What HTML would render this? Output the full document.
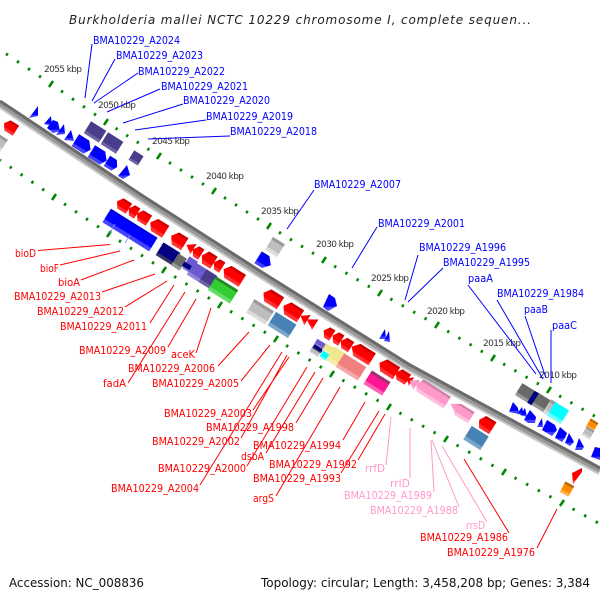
<!DOCTYPE html>
<html><head><meta charset="utf-8"><style>
html,body{margin:0;padding:0;background:#fff}
svg{display:block}
text{font-family:"DejaVu Sans","Liberation Sans",sans-serif;font-size:11px}
.b text{fill:#00f}.r text{fill:#f00}.p text{fill:#ff99cc}
.k text{fill:#333;font-size:9px}
</style></head><body>
<svg width="600" height="600" viewBox="0 0 600 600" xmlns="http://www.w3.org/2000/svg">
<defs>
<linearGradient id="r" x1="0" y1="0" x2="0" y2="1"><stop offset=".18" stop-color="#c00"/><stop offset=".2" stop-color="#f00"/><stop offset=".72" stop-color="#f00"/><stop offset=".78" stop-color="#f33"/></linearGradient>
<linearGradient id="u" x1="0" y1="0" x2="0" y2="1"><stop offset=".1" stop-color="#00d"/><stop offset=".15" stop-color="#00f"/><stop offset=".72" stop-color="#00f"/><stop offset=".78" stop-color="#44f"/></linearGradient>
<linearGradient id="n" x1="0" y1="0" x2="0" y2="1"><stop offset=".75" stop-color="#000080"/><stop offset=".8" stop-color="#336"/></linearGradient>
<linearGradient id="d" x1="0" y1="0" x2="0" y2="1"><stop offset=".75" stop-color="#483d8b"/><stop offset=".8" stop-color="#6d64a5"/></linearGradient>
<linearGradient id="s" x1="0" y1="0" x2="0" y2="1"><stop offset=".72" stop-color="#6a5acd"/><stop offset=".8" stop-color="#9085da"/></linearGradient>
<linearGradient id="g" x1="0" y1="0" x2="0" y2="1"><stop offset=".18" stop-color="#999"/><stop offset=".22" stop-color="#bebebe"/><stop offset=".72" stop-color="#bebebe"/><stop offset=".8" stop-color="#ddd"/></linearGradient>
<linearGradient id="m" x1="0" y1="0" x2="0" y2="1"><stop offset=".72" stop-color="#696969"/><stop offset=".8" stop-color="#999"/></linearGradient>
<linearGradient id="t" x1="0" y1="0" x2="0" y2="1"><stop offset=".72" stop-color="#4682b4"/><stop offset=".8" stop-color="#7da7c9"/></linearGradient>
<linearGradient id="v" x1="0" y1="0" x2="0" y2="1"><stop offset=".15" stop-color="#282"/><stop offset=".2" stop-color="#32cd32"/><stop offset=".72" stop-color="#32cd32"/><stop offset=".8" stop-color="#66dd66"/></linearGradient>
<linearGradient id="c" x1="0" y1="0" x2="0" y2="1"><stop offset=".72" stop-color="#f08080"/><stop offset=".8" stop-color="#f5a8a8"/></linearGradient>
<linearGradient id="h" x1="0" y1="0" x2="0" y2="1"><stop offset=".18" stop-color="#a03070"/><stop offset=".22" stop-color="#ff1493"/><stop offset=".72" stop-color="#ff1493"/><stop offset=".8" stop-color="#ff60b5"/></linearGradient>
<linearGradient id="i" x1="0" y1="0" x2="0" y2="1"><stop offset=".15" stop-color="#d080a8"/><stop offset=".2" stop-color="#ff99cc"/><stop offset=".72" stop-color="#ff99cc"/><stop offset=".8" stop-color="#ffc0dd"/></linearGradient>
<linearGradient id="q" x1="0" y1="0" x2="0" y2="1"><stop offset=".72" stop-color="#f0e68c"/><stop offset=".8" stop-color="#f5eeb0"/></linearGradient>
<linearGradient id="y" x1="0" y1="0" x2="0" y2="1"><stop offset=".72" stop-color="#0ff"/><stop offset=".8" stop-color="#66ffff"/></linearGradient>
<linearGradient id="o" x1="0" y1="0" x2="0" y2="1"><stop offset=".2" stop-color="#b86a10"/><stop offset=".25" stop-color="#ff8c00"/><stop offset=".72" stop-color="#ff8c00"/><stop offset=".8" stop-color="#ffb050"/></linearGradient>
</defs>

<text x="69" y="24" font-style="italic" style="font-size:12px;fill:#222" textLength="462" lengthAdjust="spacing">Burkholderia mallei NCTC 10229 chromosome I, complete sequen...</text>

<!-- backbone -->
<g fill="none">
<path d="M0,104.500 L143,199.500 L260,274.500 L410,368.500 L600,471.500" stroke="#c8c8c8" stroke-width="7.500"/>
<path d="M0,103 L143,198 L260,273 L410,367 L600,470" stroke="#999" stroke-width="6"/>
<path d="M0,101 L143,196 L260,271 L410,365 L600,468" stroke="#6a6a6a" stroke-width="3"/>
</g>

<!-- tracks: dots -->
<g stroke="#080" stroke-width="3" fill="none">
<g stroke-dasharray=".18 .82" stroke-dashoffset=".09">
<line pathLength="5" x1="-4" y1="47" x2="51" y2="84"/>
<line pathLength="5" x1="51" y1="84" x2="106" y2="122"/>
<line pathLength="5" x1="106" y1="122" x2="159" y2="156"/>
<line pathLength="5" x1="159" y1="156" x2="214" y2="191"/>
<line pathLength="5" x1="214" y1="191" x2="269" y2="226"/>
<line pathLength="5" x1="269" y1="226" x2="324" y2="260"/>
<line pathLength="5" x1="324" y1="260" x2="380" y2="293"/>
<line pathLength="5" x1="380" y1="293" x2="437" y2="325"/>
<line pathLength="5" x1="437" y1="325" x2="493" y2="358"/>
<line pathLength="5" x1="493" y1="358" x2="549" y2="390"/>
<line pathLength="5" x1="549" y1="390" x2="605" y2="422"/>
<line pathLength="5" x1="0" y1="160" x2="54" y2="197"/>
<line pathLength="5" x1="54" y1="197" x2="109" y2="234"/>
<line pathLength="5" x1="109" y1="234" x2="164" y2="270"/>
<line pathLength="5" x1="164" y1="270" x2="220" y2="305"/>
<line pathLength="5" x1="220" y1="305" x2="276" y2="339"/>
<line pathLength="5" x1="276" y1="339" x2="332" y2="374"/>
<line pathLength="5" x1="332" y1="374" x2="389" y2="407"/>
<line pathLength="5" x1="389" y1="407" x2="446" y2="439"/>
<line pathLength="5" x1="446" y1="439" x2="504" y2="472"/>
<line pathLength="5" x1="504" y1="472" x2="562" y2="503"/>
<line pathLength="5" x1="562" y1="503" x2="620" y2="535"/>
</g>
<g stroke-width="2.500">
<path d="M49,87l4,-6M104,125l4,-6M157,159l4,-6M212,194l4,-6M267,229l4,-6M322,263l4,-6M378,296l4,-6M435,328l4,-6M491,361l4,-6M547,393l4,-6"/>
<path d="M52,200l4,-6M107,237l4,-6M162,273l4,-6M218,308l4,-6M274,342l4,-6M330,377l4,-6M387,410l4,-6M444,442l4,-6M502,475l4,-6M560,506l4,-6"/>
</g>
</g>

<!-- blue features top left -->
<g fill="url(#u)">
<polygon points="29,118 38,106 38,116"/>
<polygon points="44,124 51,116 52,126"/>
<polygon points="47,128 53,120 58,122 60,131 53,133"/>
<polygon points="56,135 64,124 65,134"/>
<polygon points="64,140 71,130 74,141"/>
<path transform="translate(83 145)rotate(32)" d="M-9,-7H3L9,0L5,7H-9Z"/>
<path transform="translate(99 156)rotate(32)" d="M-9,-7H3L9,0L5,7H-9Z"/>
<path transform="translate(112 164)rotate(32)" d="M-6,-6H2L6,0L3,6H-6Z"/>
<polygon points="118,176 127,165 130,175 123,179"/>
<path transform="translate(264 261)rotate(32)" d="M-7,-7H2L8,0L2,7H-7Z"/>
<polygon points="323,307 329,294 335,298 337,306 328,311"/>
<polygon points="379,339 385,329 386,339"/>
<polygon points="384,341 389,331 390,342"/>
<!-- blue right group -->
<polygon points="513,402 518,408 519,414 509,412"/>
<polygon points="522,407 524,415 517,414"/>
<polygon points="525,408 527,417 520,415"/>
<polygon points="530,410 536,417 535,423 528,423 524,420"/>
<polygon points="542,418 543,427 537,427"/>
<polygon points="547,420 555,425 557,430 552,436 542,430"/>
<polygon points="560,427 567,433 565,438 562,442 555,438"/>
<polygon points="569,433 574,442 570,446 565,443"/>
<polygon points="579,438 584,447 582,450 575,450"/>
<polygon points="595,447 600,448 600,460 591,457"/>
</g>
<rect fill="url(#d)" x="-9" y="-7" width="18" height="14" transform="translate(95 132)rotate(32)"/>
<rect fill="url(#d)" x="-9" y="-7" width="18" height="14" transform="translate(112 143)rotate(32)"/>
<rect fill="url(#d)" x="-5.500" y="-5.500" width="11" height="11" transform="translate(136 158)rotate(32)"/>

<!-- far left -->
<path fill="url(#r)" transform="translate(10 127)rotate(32)" d="M-7,0L-3,-6H7V6H-3Z"/>
<rect fill="url(#g)" x="-9" y="-7" width="14" height="14" transform="translate(0 143)rotate(32)"/>

<!-- blue boxes -->
<rect fill="url(#u)" x="-27.500" y="-8" width="55" height="16" transform="translate(130 230)rotate(32)"/>
<g stroke="#88f" stroke-width=".8"><path d="M110,233l5,-9M125,243l5,-8"/></g>
<rect fill="url(#n)" x="-10" y="-7.500" width="20" height="15" transform="translate(168 254)rotate(32)"/>
<rect fill="url(#m)" x="-5" y="-7" width="10" height="14" transform="translate(179 262)rotate(32)"/>
<rect fill="url(#s)" x="-5" y="-7" width="10" height="14" transform="translate(190 265)rotate(32)"/>
<rect fill="#000080" x="-4.500" y="-2.500" width="9" height="5" transform="translate(187 266)rotate(32)"/>
<rect fill="url(#s)" x="-11" y="-7.500" width="22" height="15" transform="translate(200 274)rotate(32)"/>
<rect fill="url(#d)" x="-6.500" y="-7.500" width="13" height="15" transform="translate(208 279)rotate(32)"/>
<rect fill="url(#v)" x="-13" y="-8" width="26" height="16" transform="translate(223 290)rotate(32)"/>

<!-- red row 1 -->
<g fill="url(#r)">
<path transform="translate(123 205)rotate(32)" d="M-7,0L-3,-6H7V6H-3Z"/>
<path transform="translate(133 211)rotate(32)" d="M-5,0L-1,-6H5V6H-1Z"/>
<path transform="translate(143 217)rotate(32)" d="M-7,0L-3,-6H7V6H-3Z"/>
<path transform="translate(158 227)rotate(32)" d="M-9,0L-4,-7H9V7H-4Z"/>
<path transform="translate(178 240)rotate(32)" d="M-8,0L-3,-7H8V7H-3Z"/>
<path transform="translate(190 247)rotate(32)" d="M-4,0L4,-6V6Z"/>
<path transform="translate(197 252)rotate(32)" d="M-5,0L-1,-6H5V6H-1Z"/>
<path transform="translate(208 259)rotate(32)" d="M-7,0L-3,-7H7V7H-3Z"/>
<path transform="translate(218 265)rotate(32)" d="M-5,0L-1,-6H5V6H-1Z"/>
<path transform="translate(233 275)rotate(32)" d="M-11,0L-6,-7H11V7H-6Z"/>
<path transform="translate(272 298)rotate(32)" d="M-10,0L-5,-7H10V7H-5Z"/>
<path transform="translate(292 311)rotate(32)" d="M-10,0L-5,-7H10V7H-5Z"/>
<path transform="translate(304 318)rotate(32)" d="M-4,0L4,-6V6Z"/>
<path transform="translate(311 322)rotate(32)" d="M-5,0L5,-6V6Z"/>
<path transform="translate(328 333)rotate(32)" d="M-5,0L-1,-6H5V6H-1Z"/>
<path transform="translate(337 338)rotate(32)" d="M-5,0L-1,-6H5V6H-1Z"/>
<path transform="translate(346 344)rotate(32)" d="M-6,0L-2,-6H6V6H-2Z"/>
<path transform="translate(362 353)rotate(32)" d="M-12,0L-6,-7H12V7H-6Z"/>
<path transform="translate(388 368)rotate(32)" d="M-10,0L-5,-7H10V7H-5Z"/>
<path transform="translate(402 376)rotate(32)" d="M-7,0L-3,-6H7V6H-3Z"/>
<path transform="translate(409 380)rotate(32)" d="M-3,0L3,-5V5Z"/>
<path transform="translate(486 424)rotate(32)" d="M-8,0L-4,-7H8V7H-4Z"/>
<polygon points="573,484 572,473 582,468 582,472" />
</g>

<!-- row 2 -->
<rect fill="url(#g)" x="-11.500" y="-8" width="23" height="16" transform="translate(260 312)rotate(32)"/>
<rect fill="url(#t)" x="-12" y="-8" width="24" height="16" transform="translate(282 325)rotate(32)"/>
<rect fill="url(#g)" x="-7" y="-7.500" width="14" height="15" transform="translate(275 247)rotate(32)"/>
<rect fill="url(#g)" x="-5" y="-3" width="10" height="6" transform="translate(315 352)rotate(32)"/>
<rect fill="url(#n)" x="-5" y="-3" width="10" height="6" transform="translate(318 348)rotate(32)"/>
<rect fill="url(#s)" x="-5" y="-3" width="10" height="6" transform="translate(320 344)rotate(32)"/>
<rect fill="url(#q)" x="-4.500" y="-4" width="9" height="8" transform="translate(328 349)rotate(32)"/>
<rect fill="url(#y)" x="-4.500" y="-3.500" width="9" height="7" transform="translate(325 356)rotate(32)"/>
<rect fill="url(#q)" x="-7" y="-8" width="14" height="16" transform="translate(336 357)rotate(32)"/>
<rect fill="url(#c)" x="-13" y="-8" width="26" height="16" transform="translate(351 367)rotate(32)"/>
<rect fill="url(#h)" x="-11" y="-8" width="22" height="16" transform="translate(377 383)rotate(32)"/>
<g fill="url(#i)">
<path transform="translate(413 383)rotate(32)" d="M-4,0L4,-6V6Z"/>
<path transform="translate(432 393)rotate(32)" d="M-18,0L-14,-7H18V7H-14Z"/>
<path transform="translate(454 406)rotate(32)" d="M-4,0L4,-5V5Z"/>
<path transform="translate(463 412)rotate(32)" d="M-10,0L-6,-6H10V7H-6Z"/>
</g>
<rect fill="url(#t)" x="-10" y="-8" width="20" height="16" transform="translate(476 438)rotate(32)"/>

<!-- right group -->
<rect fill="url(#m)" x="-7.500" y="-7" width="15" height="14" transform="translate(525 393)rotate(32)"/>
<rect fill="url(#m)" x="-8" y="-7" width="16" height="14" transform="translate(540 402)rotate(32)"/>
<rect fill="#000080" x="-2.500" y="-7" width="5" height="14" transform="translate(533 398)rotate(32)"/>
<rect fill="url(#g)" x="-3.500" y="-8" width="7" height="16" transform="translate(550 408)rotate(32)"/>
<rect fill="url(#y)" x="-8" y="-8" width="16" height="16" transform="translate(558 413)rotate(32)"/>
<rect fill="url(#o)" x="-4.500" y="-5" width="9" height="10" transform="translate(592 425)rotate(32)"/>
<rect fill="url(#g)" x="-4.500" y="-5" width="9" height="10" transform="translate(588 433)rotate(32)"/>
<rect fill="url(#o)" x="-5" y="-6" width="10" height="12" transform="translate(567 489)rotate(28)"/>

<!-- kbp labels -->
<g class="k">
<text x="44" y="72" textLength="38">2055 kbp</text>
<text x="98" y="108" textLength="38">2050 kbp</text>
<text x="152" y="144" textLength="38">2045 kbp</text>
<text x="206" y="179" textLength="38">2040 kbp</text>
<text x="261" y="214" textLength="38">2035 kbp</text>
<text x="316" y="247" textLength="38">2030 kbp</text>
<text x="371" y="281" textLength="38">2025 kbp</text>
<text x="427" y="314" textLength="38">2020 kbp</text>
<text x="483" y="346" textLength="38">2015 kbp</text>
<text x="539" y="378" textLength="38">2010 kbp</text>
</g>

<!-- blue connectors -->
<g stroke="#00f" stroke-width="1" fill="none">
<path d="M92,44L85,98M115,59L92,101M138,73L94,103M160,89L107,112M183,104L123,123M206,120L135,130M230,136L148,139M314,190L287,229M377,227L352,268M418,255L405,300M443,268L408,302M468,285L536,374M497,300L543,379M525,316L546,378M551,330L551,383"/>
</g>
<g class="b">
<text x="93" y="44" textLength="87" lengthAdjust="spacingAndGlyphs">BMA10229_A2024</text>
<text x="116" y="59" textLength="87" lengthAdjust="spacingAndGlyphs">BMA10229_A2023</text>
<text x="138" y="75" textLength="87" lengthAdjust="spacingAndGlyphs">BMA10229_A2022</text>
<text x="161" y="90" textLength="87" lengthAdjust="spacingAndGlyphs">BMA10229_A2021</text>
<text x="183" y="104" textLength="87" lengthAdjust="spacingAndGlyphs">BMA10229_A2020</text>
<text x="206" y="120" textLength="87" lengthAdjust="spacingAndGlyphs">BMA10229_A2019</text>
<text x="230" y="135" textLength="87" lengthAdjust="spacingAndGlyphs">BMA10229_A2018</text>
<text x="314" y="188" textLength="87" lengthAdjust="spacingAndGlyphs">BMA10229_A2007</text>
<text x="378" y="227" textLength="87" lengthAdjust="spacingAndGlyphs">BMA10229_A2001</text>
<text x="419" y="251" textLength="87" lengthAdjust="spacingAndGlyphs">BMA10229_A1996</text>
<text x="443" y="266" textLength="87" lengthAdjust="spacingAndGlyphs">BMA10229_A1995</text>
<text x="468" y="282" textLength="25" lengthAdjust="spacingAndGlyphs">paaA</text>
<text x="497" y="297" textLength="87" lengthAdjust="spacingAndGlyphs">BMA10229_A1984</text>
<text x="524" y="313" textLength="24" lengthAdjust="spacingAndGlyphs">paaB</text>
<text x="552" y="329" textLength="25" lengthAdjust="spacingAndGlyphs">paaC</text>
</g>

<!-- red connectors -->
<g stroke="#f00" stroke-width="1" fill="none">
<path d="M38,250.500L110,244.500M60,265L120,251M81,280L134,260M102,292L155,274M125,307L167,281M150,323L174,285M168,347L196,299M128,383L185,292M196,353L211,308M218,366L249,332M241,381L270,345M200,485L282,352M241,438L287,355M253,410L289,357M247,466L307,367M296,423L323,378M266,453L315,372M343,440L365,402M341,473L379,411M358,460L385,414M276,496L340,387M509,533L464,459M537,548L557,509"/>
</g>
<g class="r">
<text x="15" y="257" textLength="21" lengthAdjust="spacingAndGlyphs">bioD</text>
<text x="40" y="272" textLength="19" lengthAdjust="spacingAndGlyphs">bioF</text>
<text x="58" y="286" textLength="22" lengthAdjust="spacingAndGlyphs">bioA</text>
<text x="14" y="300" textLength="87" lengthAdjust="spacingAndGlyphs">BMA10229_A2013</text>
<text x="37" y="315" textLength="87" lengthAdjust="spacingAndGlyphs">BMA10229_A2012</text>
<text x="60" y="330" textLength="87" lengthAdjust="spacingAndGlyphs">BMA10229_A2011</text>
<text x="79" y="354" textLength="87" lengthAdjust="spacingAndGlyphs">BMA10229_A2009</text>
<text x="171" y="358" textLength="24" lengthAdjust="spacingAndGlyphs">aceK</text>
<text x="128" y="372" textLength="87" lengthAdjust="spacingAndGlyphs">BMA10229_A2006</text>
<text x="103" y="387" textLength="23" lengthAdjust="spacingAndGlyphs">fadA</text>
<text x="152" y="387" textLength="87" lengthAdjust="spacingAndGlyphs">BMA10229_A2005</text>
<text x="164" y="417" textLength="88" lengthAdjust="spacingAndGlyphs">BMA10229_A2003</text>
<text x="206" y="431" textLength="88" lengthAdjust="spacingAndGlyphs">BMA10229_A1998</text>
<text x="152" y="445" textLength="88" lengthAdjust="spacingAndGlyphs">BMA10229_A2002</text>
<text x="253" y="449" textLength="88" lengthAdjust="spacingAndGlyphs">BMA10229_A1994</text>
<text x="241" y="460" textLength="23" lengthAdjust="spacingAndGlyphs">dsbA</text>
<text x="269" y="468" textLength="88" lengthAdjust="spacingAndGlyphs">BMA10229_A1992</text>
<text x="158" y="472" textLength="88" lengthAdjust="spacingAndGlyphs">BMA10229_A2000</text>
<text x="253" y="482" textLength="88" lengthAdjust="spacingAndGlyphs">BMA10229_A1993</text>
<text x="111" y="492" textLength="88" lengthAdjust="spacingAndGlyphs">BMA10229_A2004</text>
<text x="253" y="502" textLength="21" lengthAdjust="spacingAndGlyphs">argS</text>
<text x="420" y="541" textLength="88" lengthAdjust="spacingAndGlyphs">BMA10229_A1986</text>
<text x="447" y="556" textLength="88" lengthAdjust="spacingAndGlyphs">BMA10229_A1976</text>
</g>

<!-- pink connectors -->
<g stroke="#ff99cc" stroke-width="1" fill="none">
<path d="M386,465L391,417M410,478L410,428M434,492L431,440M459,507L432,440M487,522L442,446"/>
</g>
<g class="p">
<text x="365" y="472" textLength="20" lengthAdjust="spacingAndGlyphs">rrfD</text>
<text x="390" y="487" textLength="20" lengthAdjust="spacingAndGlyphs">rrlD</text>
<text x="344" y="499" textLength="88" lengthAdjust="spacingAndGlyphs">BMA10229_A1989</text>
<text x="370" y="514" textLength="88" lengthAdjust="spacingAndGlyphs">BMA10229_A1988</text>
<text x="466" y="529" textLength="19" lengthAdjust="spacingAndGlyphs">rrsD</text>
</g>

<text x="9" y="587" style="font-size:12px;fill:#111" textLength="135" lengthAdjust="spacingAndGlyphs">Accession: NC_008836</text>
<text x="261" y="587" style="font-size:12px;fill:#111" textLength="329" lengthAdjust="spacingAndGlyphs">Topology: circular; Length: 3,458,208 bp; Genes: 3,384</text>
</svg>
</body></html>
